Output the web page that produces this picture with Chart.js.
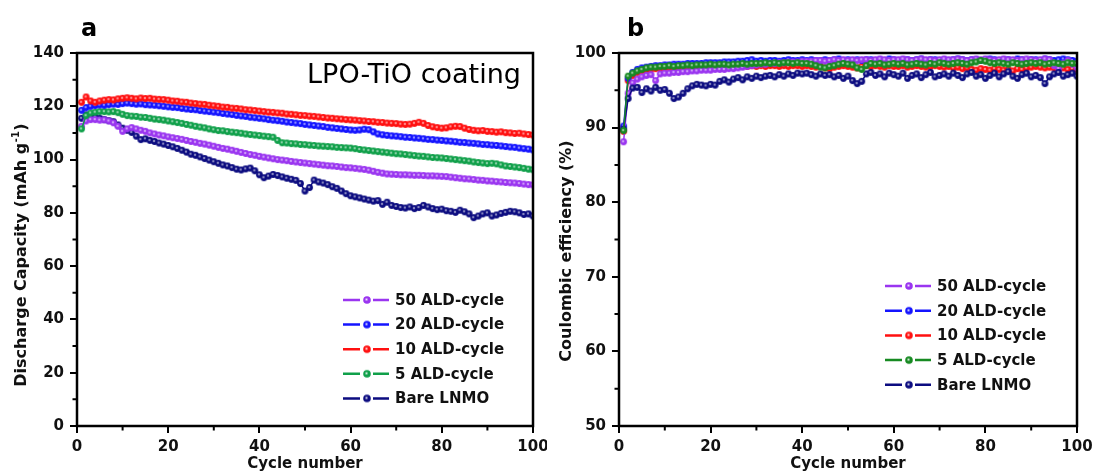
<!DOCTYPE html>
<html>
<head>
<meta charset="utf-8">
<script src="https://cdn.jsdelivr.net/npm/chart.js@4.4.0/dist/chart.umd.min.js"></script>
<style>
  html, body { margin: 0; padding: 0; background: #fff; }
  #wrap { position: relative; width: 1094px; height: 475px; }
  .panel { position: absolute; top: 0; width: 547px; height: 475px; }
</style>
</head>
<body>
<div id="wrap">
  <div class="panel" style="left:0"><canvas id="capChart" width="547" height="475"></canvas></div>
  <div class="panel" style="left:547px"><canvas id="ceChart" width="547" height="475"></canvas></div>
</div>
<script>
// series, top to bottom as in the legends
const seriesNames = ["50 ALD-cycle", "20 ALD-cycle", "10 ALD-cycle", "5 ALD-cycle", "Bare LNMO"];
const capColors = ["#9a35f0", "#1414ff", "#ff1010", "#10a04a", "#0c0c80"];
const ceColors = ["#9a35f0", "#1414ff", "#ff1010", "#178a22", "#0c0c80"];

const cycles = Array.from({ length: 100 }, (_, i) => i + 1);
const xTicks = [0, 20, 40, 60, 80, 100];
const xMinor = [10, 30, 50, 70, 90];
const capYTicks = [0, 20, 40, 60, 80, 100, 120, 140];
const capYMinor = [10, 30, 50, 70, 90, 110, 130];
const ceYTicks = [50, 60, 70, 80, 90, 100];
const ceYMinor = [55, 65, 75, 85, 95];

// discharge capacity (mAh g-1)
const cap50 = [
  112.5, 114.5, 115.0, 115.0, 114.8, 114.9, 114.5, 113.8, 112.5, 110.6,
  111.5, 112.0, 111.5, 111.0, 110.6, 110.0, 109.6, 109.2, 108.9, 108.5,
  108.2, 107.9, 107.6, 107.2, 106.8, 106.5, 106.1, 105.8, 105.4, 105.0,
  104.6, 104.2, 103.9, 103.5, 103.1, 102.7, 102.3, 101.9, 101.6, 101.2,
  100.9, 100.6, 100.3, 100.0, 99.8, 99.6, 99.3, 99.1, 98.9, 98.7,
  98.5, 98.3, 98.1, 97.9, 97.7, 97.6, 97.4, 97.2, 97.0, 96.9,
  96.7, 96.5, 96.3, 96.0, 95.6, 95.2, 94.9, 94.6, 94.5, 94.4,
  94.3, 94.3, 94.2, 94.1, 94.1, 94.0, 93.9, 93.9, 93.8, 93.7,
  93.6, 93.4, 93.2, 93.0, 92.8, 92.7, 92.5, 92.3, 92.2, 92.0,
  91.9, 91.7, 91.6, 91.4, 91.3, 91.2, 91.0, 90.8, 90.6, 90.5
];
const cap20 = [
  118.5, 119.5, 120.0, 120.3, 120.5, 120.4, 120.6, 120.8, 120.7, 121.0,
  121.2, 121.0, 120.8, 120.9, 120.6, 120.5, 120.4, 120.2, 120.0, 119.8,
  119.6, 119.5, 119.2, 119.0, 118.8, 118.7, 118.4, 118.2, 118.0, 117.8,
  117.6, 117.3, 117.1, 116.9, 116.6, 116.4, 116.2, 115.9, 115.7, 115.5,
  115.3, 115.0, 114.8, 114.6, 114.4, 114.1, 113.9, 113.7, 113.5, 113.2,
  113.0, 112.8, 112.6, 112.4, 112.1, 111.9, 111.7, 111.5, 111.3, 111.1,
  111.0, 111.1, 111.4, 111.2, 110.4, 109.6, 109.3, 109.1, 108.9, 108.8,
  108.6, 108.4, 108.3, 108.1, 108.0, 107.8, 107.6, 107.5, 107.3, 107.2,
  107.0, 106.9, 106.7, 106.5, 106.4, 106.2, 106.1, 105.9, 105.7, 105.6,
  105.4, 105.3, 105.1, 104.9, 104.7, 104.6, 104.3, 104.1, 103.9, 103.6
];
const cap10 = [
  121.5, 123.5, 122.0, 121.5, 122.0, 122.3, 122.5, 122.4, 122.8, 123.0,
  123.2, 123.0, 122.8, 123.1, 122.9, 123.0, 122.7, 122.6, 122.5, 122.3,
  122.0, 121.9, 121.6, 121.5, 121.2, 121.0, 120.8, 120.7, 120.4, 120.2,
  120.0, 119.7, 119.6, 119.3, 119.2, 119.0, 118.7, 118.6, 118.4, 118.2,
  118.0, 117.8, 117.7, 117.5, 117.4, 117.1, 117.0, 116.8, 116.6, 116.5,
  116.3, 116.2, 116.0, 115.8, 115.6, 115.5, 115.3, 115.2, 115.0, 114.9,
  114.8, 114.6, 114.5, 114.3, 114.2, 114.0, 113.9, 113.7, 113.6, 113.5,
  113.3, 113.2, 113.3, 113.6, 114.0, 113.6, 112.8, 112.3, 112.0, 111.8,
  111.9, 112.3, 112.5, 112.4, 111.8, 111.3, 111.0, 110.8, 110.9, 110.6,
  110.5, 110.3, 110.4, 110.1, 110.0, 109.8, 109.9, 109.6, 109.4, 109.2
];
const cap5 = [
  111.5, 116.5, 117.5, 117.8, 118.0, 118.0, 117.9, 118.0, 117.6, 117.0,
  116.5, 116.3, 116.2, 115.9, 115.8, 115.5, 115.2, 115.0, 114.8, 114.5,
  114.2, 113.9, 113.6, 113.2, 112.9, 112.5, 112.2, 111.9, 111.5, 111.2,
  110.9, 110.8, 110.5, 110.3, 110.1, 109.9, 109.6, 109.4, 109.2, 109.0,
  108.8, 108.6, 108.4, 107.2, 106.3, 106.2, 106.0, 105.9, 105.7, 105.6,
  105.4, 105.3, 105.1, 105.0, 104.9, 104.8, 104.6, 104.5, 104.4, 104.3,
  104.1, 103.8, 103.6, 103.4, 103.2, 103.0, 102.8, 102.6, 102.4, 102.2,
  102.1, 101.9, 101.7, 101.5, 101.3, 101.2, 101.0, 100.8, 100.7, 100.6,
  100.4, 100.2, 100.0, 99.8, 99.6, 99.4, 99.1, 98.9, 98.7, 98.5,
  98.6, 98.4, 98.0, 97.6, 97.4, 97.2, 97.0, 96.7, 96.4, 96.2
];
const capBare = [
  115.5, 116.8, 116.3, 116.0, 115.5, 115.0, 114.6, 114.2, 113.0, 111.8,
  111.0, 110.2, 108.8, 107.5, 107.8, 107.2, 106.8, 106.2, 105.8, 105.3,
  104.8, 104.2, 103.5, 102.8, 102.0, 101.6, 101.0, 100.4, 99.8, 99.2,
  98.6, 98.0, 97.6, 97.0, 96.4, 96.1, 96.5, 96.8, 95.8, 94.3,
  93.2, 93.8, 94.4, 94.0, 93.5, 93.0, 92.6, 92.2, 91.0, 88.2,
  89.5, 92.3, 91.6, 91.2, 90.6, 89.8, 89.2, 88.2, 87.2, 86.4,
  86.0, 85.6, 85.2, 84.8, 84.4, 84.6, 83.2, 84.0, 82.8, 82.4,
  82.0, 81.8, 82.2, 81.6, 82.0, 82.8, 82.2, 81.6, 81.2, 81.4,
  80.8, 80.6, 80.2, 81.0, 80.4, 79.6, 78.2, 78.8, 79.6, 80.0,
  78.8, 79.2, 79.8, 80.2, 80.6, 80.4, 80.0, 79.4, 79.6, 78.8
];

// coulombic efficiency (%)
const ce50 = [
  88.1, 94.6, 96.0, 96.5, 96.8, 97.0, 97.1, 96.3, 97.2, 97.3,
  97.3, 97.4, 97.4, 97.5, 97.5, 97.6, 97.6, 97.7, 97.7, 97.7,
  97.8, 97.8, 97.8, 97.9, 97.9, 98.0, 98.1, 98.2, 98.3, 98.4,
  98.5, 98.5, 98.6, 98.6, 98.7, 98.7, 98.8, 98.8, 98.8, 98.9,
  98.9, 98.9, 99.0, 99.0, 98.9, 99.0, 99.1, 99.0, 99.1, 99.0,
  99.1, 99.0, 99.1, 99.1, 99.0, 99.1, 99.2, 99.1, 99.0, 99.1,
  99.1, 99.2, 99.1, 99.0, 99.1, 99.2, 99.1, 99.1, 99.0, 99.1,
  99.2, 99.1, 99.1, 99.2, 99.1, 99.0, 99.1, 99.2, 99.1, 99.2,
  99.1, 99.0, 99.1, 99.2, 99.1, 99.1, 99.0, 99.1, 99.2, 99.1,
  99.0, 99.1, 99.2, 99.1, 98.3, 97.9, 98.6, 99.0, 98.5, 98.0
];
const ce20 = [
  90.2, 96.6, 97.4, 97.8, 98.0, 98.1, 98.2, 98.3, 98.3, 98.4,
  98.4, 98.5, 98.5, 98.5, 98.6, 98.6, 98.6, 98.6, 98.7, 98.7,
  98.7, 98.7, 98.8, 98.8, 98.8, 98.9, 98.9, 99.0, 99.1, 98.9,
  99.0, 98.9, 99.0, 99.0, 98.9, 99.0, 99.1, 99.0, 99.0, 99.1,
  99.0, 99.1, 99.0, 99.0, 99.1, 99.0, 99.1, 99.2, 99.0, 99.1,
  99.0, 99.1, 99.0, 99.1, 99.1, 99.0, 99.1, 99.0, 99.2, 99.1,
  99.0, 99.1, 99.1, 99.0, 99.1, 99.2, 99.0, 99.1, 99.1, 99.0,
  99.1, 99.0, 99.1, 99.2, 99.1, 99.0, 99.1, 99.1, 99.0, 99.1,
  99.2, 99.1, 99.0, 99.1, 99.1, 99.0, 99.2, 99.1, 99.0, 99.1,
  99.1, 99.0, 99.2, 99.1, 99.0, 99.1, 99.2, 99.1, 99.0, 98.9
];
const ce10 = [
  89.5, 96.3, 97.0, 97.4, 97.6, 97.7, 97.8, 97.9, 97.9, 98.0,
  98.0, 98.0, 98.1, 98.1, 98.1, 98.1, 98.2, 98.1, 98.2, 98.2,
  98.2, 98.2, 98.1, 98.2, 98.3, 98.2, 98.3, 98.2, 98.3, 98.2,
  98.3, 98.2, 98.3, 98.3, 98.2, 98.3, 98.2, 98.3, 98.3, 98.2,
  98.3, 98.2, 98.1, 98.2, 98.0, 97.9, 98.1, 98.2, 98.3, 98.2,
  98.1, 98.0, 98.2, 98.3, 98.2, 98.3, 98.2, 98.1, 98.3, 98.2,
  98.2, 98.3, 98.1, 98.2, 98.3, 98.2, 98.1, 98.2, 98.3, 98.2,
  98.1, 98.2, 98.0, 98.1, 97.9, 98.0, 97.8, 97.7, 97.9, 97.8,
  97.7, 97.9, 97.8, 97.7, 97.8, 97.6, 97.9, 97.8, 98.0, 98.1,
  98.2, 98.1, 98.0, 98.1, 98.0, 97.9, 98.0, 97.8, 97.9, 97.8
];
const ce5 = [
  89.6, 96.9, 97.3, 97.6, 97.8, 98.0, 98.1, 98.1, 98.2, 98.2,
  98.3, 98.2, 98.3, 98.3, 98.4, 98.3, 98.4, 98.4, 98.4, 98.5,
  98.4, 98.5, 98.5, 98.4, 98.5, 98.5, 98.6, 98.5, 98.6, 98.6,
  98.6, 98.7, 98.6, 98.7, 98.6, 98.7, 98.7, 98.6, 98.7, 98.6,
  98.6, 98.5, 98.3, 98.1, 98.0, 98.2, 98.3, 98.5, 98.6, 98.5,
  98.4, 98.0, 97.8, 98.3, 98.6, 98.5, 98.6, 98.4, 98.5, 98.6,
  98.5, 98.6, 98.4, 98.5, 98.6, 98.5, 98.4, 98.6, 98.5, 98.7,
  98.6, 98.5, 98.6, 98.7, 98.6, 98.5, 98.7, 98.8, 99.0, 98.9,
  98.7, 98.6, 98.7, 98.6, 98.5, 98.7, 98.6, 98.5, 98.6, 98.7,
  98.6, 98.7, 98.5, 98.6, 98.7, 98.6, 98.5, 98.7, 98.6, 98.6
];
const ceBare = [
  89.8, 93.9, 95.3, 95.4, 94.7, 95.2, 94.9, 95.4, 95.0, 95.1,
  94.6, 93.9, 94.1, 94.6, 95.2, 95.6, 95.8, 95.7, 95.6, 95.8,
  95.7, 96.2, 96.4, 96.1, 96.5, 96.7, 96.4, 96.8, 96.6, 96.9,
  96.7, 96.9, 97.0, 96.8, 97.1, 96.9, 97.2, 97.0, 97.3, 97.2,
  97.3, 97.1, 96.9, 97.2, 97.0, 97.1, 96.8, 97.0, 96.6, 96.9,
  96.3, 95.9, 96.2, 97.2, 97.4, 97.0, 97.2, 96.8, 97.3, 97.1,
  96.9, 97.3, 96.6, 97.0, 97.2, 96.7, 97.1, 97.4, 96.8, 97.0,
  97.2, 96.9, 97.3, 97.0, 96.7, 97.2, 97.4, 96.9, 97.1, 96.6,
  97.0, 97.3, 96.8, 97.2, 97.5, 96.9, 96.6, 97.1, 97.3, 96.8,
  97.0, 96.7, 95.9, 96.8, 97.2, 97.4, 96.9, 97.1, 97.3, 96.9
];

const FONT = "'DejaVu Sans', 'Liberation Sans', sans-serif";

// Origin-like shaded ball marker
function ball(color, r) {
  const size = Math.ceil(r * 2) + 2;
  const c = document.createElement("canvas");
  c.width = size; c.height = size;
  const g = c.getContext("2d");
  const m = size / 2;
  g.fillStyle = color;
  g.beginPath(); g.arc(m, m, r, 0, Math.PI * 2); g.fill();
  const hl = g.createRadialGradient(m - 0.5, m - 0.5, 0, m - 0.5, m - 0.5, r * 0.5);
  hl.addColorStop(0, "rgba(255,255,255,0.85)");
  hl.addColorStop(1, "rgba(255,255,255,0)");
  g.fillStyle = hl;
  g.beginPath(); g.arc(m, m, r, 0, Math.PI * 2); g.fill();
  return c;
}

function makeDatasets(values, colors, orders) {
  return values.map((vals, i) => ({
    label: seriesNames[i],
    data: cycles.map((c, j) => ({ x: c, y: vals[j] })),
    borderColor: colors[i],
    borderWidth: 1.5,
    pointStyle: ball(colors[i], 3.4),
    pointRadius: 3.5,
    order: orders[i],
    tension: 0
  }));
}

// frame, minor ticks, legend and texts
function decor(o) {
  return {
    id: "decor",
    afterDraw(chart) {
      const ctx = chart.ctx, a = chart.chartArea;
      const xs = chart.scales.x, ys = chart.scales.y;
      ctx.save();
      ctx.strokeStyle = "#000";
      ctx.lineWidth = 2;
      ctx.beginPath();
      xMinor.forEach(v => {
        const p = xs.getPixelForValue(v);
        ctx.moveTo(p, a.bottom); ctx.lineTo(p, a.bottom + 4.5);
      });
      o.yMinor.forEach(v => {
        const p = ys.getPixelForValue(v);
        ctx.moveTo(a.left, p); ctx.lineTo(a.left - 4.5, p);
      });
      ctx.stroke();
      ctx.lineWidth = 2.5;
      ctx.strokeRect(a.left, a.top, a.right - a.left, a.bottom - a.top);

      // legend
      const lx = a.left + 266;
      seriesNames.forEach((name, i) => {
        const y = a.top + o.legendTop + i * o.legendStep;
        const col = o.colors[i];
        ctx.strokeStyle = col;
        ctx.lineWidth = 2.5;
        ctx.beginPath();
        ctx.moveTo(lx, y); ctx.lineTo(lx + 17, y);
        ctx.moveTo(lx + 30, y); ctx.lineTo(lx + 46, y);
        ctx.stroke();
        const b = ball(col, 3.8);
        ctx.drawImage(b, lx + 24 - b.width / 2, y - b.height / 2);
        ctx.fillStyle = "#111";
        ctx.font = "bold 15px " + FONT;
        ctx.textAlign = "left";
        ctx.textBaseline = "middle";
        ctx.fillText(name, lx + 52, y + 1);
      });

      // panel letter
      ctx.fillStyle = "#000";
      ctx.font = "bold 24px " + FONT;
      ctx.textAlign = "left";
      ctx.textBaseline = "alphabetic";
      ctx.fillText(o.letter, a.left + o.letterDx, 36);

      if (o.note) {
        ctx.font = "27px " + FONT;
        ctx.textAlign = "center";
        ctx.fillText(o.note, 414, 83);
      }

      // x title
      ctx.fillStyle = "#111";
      ctx.font = "bold 15px " + FONT;
      ctx.textAlign = "center";
      ctx.textBaseline = "middle";
      ctx.fillText("Cycle number", (a.left + a.right) / 2, 464);

      // y title, rotated, with optional superscript
      ctx.translate(o.yTitleX, o.yTitleY);
      ctx.rotate(-Math.PI / 2);
      const main = "bold 16px " + FONT, small = "bold 10px " + FONT;
      ctx.font = main;
      const w1 = ctx.measureText(o.yTitle[0]).width;
      const w3 = ctx.measureText(o.yTitle[2]).width;
      ctx.font = small;
      const w2 = o.yTitle[1] ? ctx.measureText(o.yTitle[1]).width + 1 : 0;
      let x = -(w1 + w2 + w3) / 2;
      ctx.textAlign = "left";
      ctx.font = main;
      ctx.fillText(o.yTitle[0], x, 0);
      x += w1;
      if (o.yTitle[1]) {
        ctx.font = small;
        ctx.fillText(o.yTitle[1], x + 0.5, -6);
        x += w2;
      }
      ctx.font = main;
      ctx.fillText(o.yTitle[2], x, 0);
      ctx.restore();
    }
  };
}

function makeOptions(yMin, yMax, yTicks, yWidth, padRight) {
  const tickFont = { family: FONT, weight: "bold", size: 15 };
  return {
    responsive: false,
    animation: false,
    layout: { padding: { left: 0, top: 53, right: padRight, bottom: 0 } },
    plugins: { legend: { display: false }, tooltip: { enabled: false } },
    scales: {
      x: {
        type: "linear", min: 0, max: 100,
        afterBuildTicks: s => { s.ticks = xTicks.map(v => ({ value: v })); },
        afterFit: s => { s.height = 49; s.paddingLeft = 0; s.paddingRight = 0; },
        grid: { drawOnChartArea: false, drawTicks: true, tickLength: 7, color: "#000", lineWidth: 2 },
        border: { display: false },
        ticks: { color: "#111", font: tickFont, padding: 5, maxRotation: 0 }
      },
      y: {
        type: "linear", min: yMin, max: yMax,
        afterBuildTicks: s => { s.ticks = yTicks.map(v => ({ value: v })); },
        afterFit: s => { s.width = yWidth; s.paddingTop = 0; s.paddingBottom = 0; },
        grid: { drawOnChartArea: false, drawTicks: true, tickLength: 7, color: "#000", lineWidth: 2 },
        border: { display: false },
        ticks: { color: "#111", font: tickFont, padding: 6 }
      }
    }
  };
}

new Chart(document.getElementById("capChart"), {
  type: "line",
  data: { datasets: makeDatasets([cap50, cap20, cap10, cap5, capBare], capColors, [3, 1, 0, 2, 4]) },
  options: makeOptions(0, 140, capYTicks, 77, 14),
  plugins: [decor({
    colors: capColors, yMinor: capYMinor, legendTop: 247, legendStep: 24.6,
    letter: "a", letterDx: 4, note: "LPO-TiO coating",
    yTitle: ["Discharge Capacity (mAh g", "-1", ")"], yTitleX: 22, yTitleY: 255
  })]
});

new Chart(document.getElementById("ceChart"), {
  type: "line",
  data: { datasets: makeDatasets([ce50, ce20, ce10, ce5, ceBare], ceColors, [2, 3, 4, 0, 1]) },
  options: makeOptions(50, 100, ceYTicks, 72, 17),
  plugins: [decor({
    colors: ceColors, yMinor: ceYMinor, legendTop: 233, legendStep: 24.7,
    letter: "b", letterDx: 8, note: null,
    yTitle: ["Coulombic efficiency (%)", "", ""], yTitleX: 20, yTitleY: 251
  })]
});
</script>
</body>
</html>
